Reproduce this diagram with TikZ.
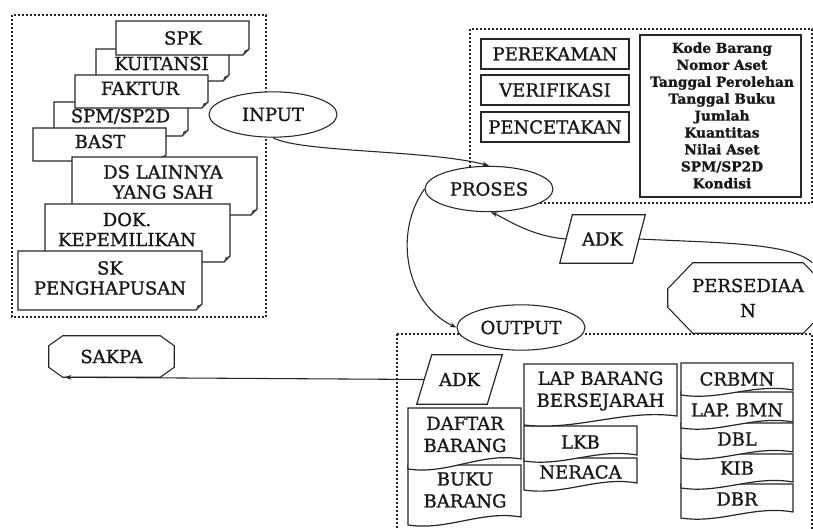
\documentclass[tikz,border=0pt]{standalone}
\usepackage{fontspec}
\setmainfont{DejaVu Serif}[FakeBold=1.2]
\usetikzlibrary{arrows.meta,shapes.geometric}
\newcommand{\folddoc}[4]{%
  \path[docline] (#1,#2) -- (#3,#2) -- (#3,#4-6) -- (#3-6,#4) -- (#1,#4) -- cycle;
  \fill[black!75] (#3,#4-6) -- (#3-6,#4) -- (#3-4.5,#4-4.5) -- cycle;}
\newcommand{\wavedoc}[5]{%
  \path[docline] (#1,#2) -- (#3,#2) -- (#3,#5) .. controls ({#1+0.65*(#3-#1)},{#5-7}) and ({#1+0.35*(#3-#1)},{#4+6}) .. (#1,#4) -- cycle;}
\newcommand{\octoshape}[3]{%
  \draw[conn] ([xshift=#2]#1.north west) -- ([xshift=-#2]#1.north east) -- ([yshift=-#3]#1.north east) -- ([yshift=#3]#1.south east) -- ([xshift=-#2]#1.south east) -- ([xshift=#2]#1.south west) -- ([yshift=#3]#1.south west) -- ([yshift=-#3]#1.north west) -- cycle;}
\newcommand{\parashape}[2]{%
  \draw[conn,line width=0.9pt] ([xshift=#2]#1.north west) -- (#1.north east) -- ([xshift=-#2]#1.south east) -- (#1.south west) -- cycle;}
\tikzset{
  dotbox/.style={draw=black!85, line width=1.8pt, dash pattern=on 1.5pt off 1.5pt},
  docline/.style={draw=black!85, line width=0.9pt, fill=white},
  lbl/.style={font=\fontsize{13.5}{15}\selectfont, align=center, inner sep=0pt, text=black!90},
  lblw/.style={lbl, font=\fontsize{13.5}{16.5}\selectfont},
  conn/.style={draw=black!85, line width=0.8pt},
  arr/.style={conn, -{Stealth[length=5pt,width=3.6pt]}},
  oval/.style={ellipse, draw=black!85, line width=0.8pt, fill=white, inner sep=0pt,
    minimum width=96pt, minimum height=34pt, font=\fontsize{13.5}{15}\selectfont, text=black!90},
  plainbox/.style={draw=black!85, line width=1pt, fill=white, inner sep=0pt,
    font=\fontsize{13.5}{15}\selectfont, text=black!90},
  ghost/.style={inner sep=0pt, align=center, font=\fontsize{13.5}{15}\selectfont, text=black!90},
}
\begin{document}
\begin{tikzpicture}[x=0.75pt,y=-0.75pt]
\useasboundingbox (0,0) rectangle (813,528);
\clip (0,0) rectangle (813,528);
\fill[white] (0,0) rectangle (813,528);

% dotted frames
\draw[dotbox] (12,15) rectangle (266,317);
\draw[dotbox] (470,29) rectangle (812,203);
\draw[dotbox] (397,334) rectangle (812,560);

% input documents
\folddoc{96}{49}{229}{81}
\node[lbl] (kuitansi) at (161.5,63.5) {KUITANSI};
\folddoc{116}{21}{249}{55}
\node[lbl] (spk) at (183,38) {SPK};
\folddoc{54}{102}{188}{136}
\node[lbl] (spm) at (120.5,116.5) {SPM/SP2D};
\folddoc{75}{75}{208}{108}
\node[lbl] (faktur) at (140,88.5) {FAKTUR};
\folddoc{33}{128}{166}{161}
\node[lbl] (bast) at (100,141.5) {BAST};
\folddoc{72}{157}{257}{215}
\node[lbl] (ds) at (163,182) {DS LAINNYA\\YANG SAH};
\folddoc{45}{204}{230}{262}
\node[lbl] (dok) at (127,229.5) {DOK.\\KEPEMILIKAN};
\folddoc{18}{251}{202}{310}
\node[lbl] (sk) at (110,278) {SK\\PENGHAPUSAN};

% process box contents
\node[plainbox, minimum width=111pt, minimum height=22.5pt] (rekam) at (555,54) {PEREKAMAN};
\node[plainbox, minimum width=111pt, minimum height=22.5pt] (verif) at (555,90) {VERIFIKASI};
\node[plainbox, minimum width=111pt, minimum height=22.5pt] (cetak) at (555,127) {PENCETAKAN};
\node[plainbox, minimum width=120.75pt, minimum height=121.5pt] (listbox) at (720.5,116) {};
\node[inner sep=0pt, align=center, font=\bfseries\fontsize{10.3}{12.7}\selectfont, text=black!90] (list) at (722,115.5)
  {Kode Barang\\Nomor Aset\\Tanggal Perolehan\\Tanggal Buku\\Jumlah\\Kuantitas\\Nilai Aset\\SPM/SP2D\\Kondisi};

% ellipses
\node[oval] (input) at (273,114.5) {INPUT};
\node[oval] (proses) at (489,189) {PROSES};
\node[oval] (output) at (521,327.5) {OUTPUT};

% ADK parallelograms
\node[ghost, minimum width=63.75pt, minimum height=36pt] (adk1) at (602.5,239) {ADK};
\parashape{adk1}{9.5pt}
\node[ghost, minimum width=63.75pt, minimum height=36.75pt] (adk2) at (459.5,379.5) {ADK};
\parashape{adk2}{11.25pt}

% octagons
\node[ghost, minimum width=93.75pt, minimum height=30.75pt] (sakpa) at (111.5,356.5) {SAKPA};
\octoshape{sakpa}{10.5pt}{7.5pt}
\node[ghost, font=\fontsize{13.5}{18.75}\selectfont, minimum width=120pt, minimum height=52.5pt] (pers) at (748,298) {PERSEDIAA\\N};
\octoshape{pers}{18.75pt}{19.5pt}

% output documents
\wavedoc{408}{465}{521}{525}{517}
\node[lblw] (buku) at (465,490) {BUKU\\BARANG};
\wavedoc{408}{408}{521}{469}{459}
\node[lblw] (daftar) at (465,434.5) {DAFTAR\\BARANG};
\wavedoc{524}{458}{637}{490}{483}
\node[lblw] (neraca) at (580.5,472) {NERACA};
\wavedoc{524}{426}{637}{461}{455}
\node[lblw] (lkb) at (580.5,442) {LKB};
\wavedoc{524}{364}{677}{425}{416}
\node[lblw] (lapbs) at (600.5,391) {LAP BARANG\\BERSEJARAH};
\wavedoc{681}{484}{793}{518}{512}
\node[lblw] (dbr) at (737,499) {DBR};
\wavedoc{681}{454}{793}{488}{482}
\node[lblw] (kib) at (737,468) {KIB};
\wavedoc{681}{423}{793}{458}{452}
\node[lblw] (dbl) at (737,439) {DBL};
\wavedoc{681}{392}{793}{428}{422}
\node[lblw] (lapbmn) at (737,410) {LAP. BMN};
\wavedoc{681}{363}{793}{395}{390}
\node[lblw] (crbmn) at (737,379) {CRBMN};

% connectors
\draw[arr] (input.south) .. controls +(27,15) and +(-58,-16) .. (proses.north);
\draw[arr] (proses.west) .. controls +(-32,45) and +(-50,-23) .. (output.west);
\draw[arr] ([xshift=4.5pt]adk1.west) .. controls +(-36,-3) and +(14,6) .. ([xshift=1.5pt]proses.south);
\draw[conn] ([xshift=-4.9pt]adk1.east) .. controls +(82,4) and +(-22,-20) .. ([xshift=-12pt]pers.north east);
\draw[arr] ([xshift=5.6pt]adk2.west) -- ([xshift=12pt]sakpa.south west);
\end{tikzpicture}
\end{document}
